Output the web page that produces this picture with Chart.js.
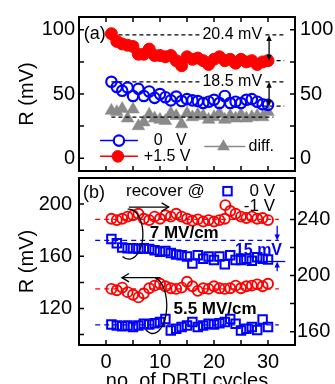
<!DOCTYPE html>
<html>
<head>
<meta charset="utf-8">
<script src="https://cdn.jsdelivr.net/npm/chart.js@4.4.1/dist/chart.umd.min.js"></script>
<style>
  body { margin: 0; background: #fff; }
  #wrap { position: relative; width: 335px; height: 384px; overflow: hidden; }
  #wrap canvas { position: absolute; left: 0; top: 0; }
</style>
</head>
<body>
<div id="wrap">
  <canvas id="panelA" width="335" height="384"></canvas>
  <canvas id="panelB" width="335" height="384"></canvas>
</div>
<script>
// DBTI cycle number
var cycles = [1, 2, 3, 4, 5, 6, 7, 8, 9, 10, 11, 12, 13, 14, 15, 16, 17, 18, 19, 20, 21, 22, 23, 24, 25, 26, 27, 28, 29, 30];

// panel (a): R (mV)
var aPlus15V = [97, 91, 89, 88, 87, 81, 81, 85, 80, 80, 79, 80, 76, 72, 79, 77, 78, 76, 73, 77, 79, 76, 77, 74, 77, 75, 76, 73, 75, 76];
var a0V = [59.5, 55.5, 52.5, 55, 48.5, 54, 48.5, 52, 47, 50, 47.5, 45, 48, 44.5, 46, 45, 44.5, 43, 44, 45.5, 43, 48.5, 43, 44, 43, 45.5, 46, 44, 42, 41.5];
var aDiff = [37, 36, 38.5, 31, 38, 25, 28, 34, 31, 30, 29, 35, 33, 26.5, 35, 32, 34, 33, 30, 32, 35, 30, 33, 31, 34, 31, 32, 33, 32, 36];
// dashed reference levels in (a)
var aRedLevels = [96, 76];
var aBlueLevels = [59.5, 40.5];
var aDiffLevel = 32;

// panel (b): 7 MV/cm pair (right axis), 5.5 MV/cm pair (left axis)
var b7Neg1V = [240.5, 239.5, 240.5, 242, 243, 244, 240.5, 239.5, 242, 240.5, 243, 242, 244, 242, 240.5, 239, 240, 238.5, 239.5, 238.5, 239.5, 240.5, 246, 244, 242, 241, 242, 240.5, 241, 239.5];
var b7ZeroV = [226, 223, 220, 219.5, 219.5, 219, 219.5, 219, 218, 217, 217.5, 216, 215, 214.5, 213.5, 208.5, 214.5, 212, 213.5, 211, 213.5, 208, 214.5, 211, 211, 212, 210.5, 213, 212, 211.5];
var b55Neg1V = [135, 134, 136, 132.5, 130.5, 128.5, 131.5, 135.5, 137.5, 139, 137, 135.5, 135, 136, 140.5, 137, 133.5, 135.5, 135, 137, 135.5, 135, 135.5, 137.5, 135.5, 137, 137.5, 138.5, 137, 139];
var b55ZeroV = [107.8, 107, 106.3, 107, 105.8, 107, 108.3, 107.8, 108.7, 109.6, 112, 103.2, 104.5, 105.8, 107, 109.6, 105.8, 107, 108.3, 107.8, 108.7, 109.6, 112, 108.3, 103.2, 104.5, 105.8, 103.5, 111.5, 105.8];
var b7Levels = [240, 225, 210];
var b55Levels = [135, 107.5];

// tick labels
var xLabels = [0, 10, 20, 30];
var aLabels = [0, 50, 100];
var bLeftLabels = [120, 160, 200];
var bRightLabels = [160, 200, 240];

var FONT = '"Liberation Sans", Arial, sans-serif';
var RED = '#ff0000', BLUE = '#0000ff', GRAY = '#8a8a8a', NONE = 'rgba(0,0,0,0)';
Chart.defaults.font.family = FONT;
Chart.defaults.color = '#000';

function pts(xs, ys) {
  return xs.map(function (x, i) { return { x: x, y: ys[i] }; });
}
function seg(x0, x1, y) {
  return [{ x: x0, y: y }, { x: x1, y: y }];
}
function levelLine(data, color, axis, dash) {
  return { data: data, yAxisID: axis, showLine: true, pointRadius: 0, borderColor: color,
           borderWidth: 1.3, borderDash: dash || [], fill: false };
}

function xScale(showLabels, height) {
  return {
    type: 'linear', min: -5, max: 35,
    grid: { display: false, drawTicks: false }, border: { display: false },
    ticks: { display: showLabels, stepSize: 5, includeBounds: false, autoSkip: false, maxRotation: 0,
             padding: 5, font: { size: 20 },
             callback: function (v) { return xLabels.indexOf(v) >= 0 ? String(v) : ''; } },
    title: { display: showLabels, text: 'no. of DBTI cycles', font: { size: 20 }, padding: { top: 0, bottom: -9 } },
    afterFit: function (s) { s.height = height; }
  };
}
function yScale(pos, min, max, step, labels, pad, title) {
  return {
    type: 'linear', position: pos, min: min, max: max,
    grid: { display: false, drawTicks: false }, border: { display: false },
    ticks: { stepSize: step, includeBounds: false, autoSkip: false, padding: pad, font: { size: 20 },
             callback: function (v) { return labels.indexOf(v) >= 0 ? String(v) : ''; } },
    title: { display: !!title, text: title || '', font: { size: 20 }, padding: { top: 15, bottom: 0 } },
    afterFit: function (s) { s.width = pos === 'left' ? 79 : 40; }
  };
}

// frame + inward tick marks
function frameTicks(topTicks) {
  return {
    id: 'frameTicks',
    afterDraw: function (chart) {
      var ctx = chart.ctx, a = chart.chartArea, len = 5;
      ctx.save();
      ctx.strokeStyle = '#000';
      ctx.lineWidth = 1.5;
      ctx.beginPath();
      var sx = chart.scales.x;
      sx.ticks.forEach(function (t) {
        var p = sx.getPixelForValue(t.value);
        if (p <= a.left + 1 || p >= a.right - 1) return;
        ctx.moveTo(p, a.bottom); ctx.lineTo(p, a.bottom - len);
        if (topTicks) { ctx.moveTo(p, a.top); ctx.lineTo(p, a.top + len); }
      });
      ['y', 'y2'].forEach(function (id) {
        var s = chart.scales[id];
        var x0 = s.position === 'left' ? a.left : a.right;
        var d = s.position === 'left' ? len : -len;
        s.ticks.forEach(function (t) {
          var p = s.getPixelForValue(t.value);
          if (p <= a.top + 1 || p >= a.bottom - 1) return;
          ctx.moveTo(x0, p); ctx.lineTo(x0 + d, p);
        });
      });
      ctx.stroke();
      ctx.lineWidth = 2;
      ctx.strokeRect(a.left, a.top, a.right - a.left, a.bottom - a.top);
      ctx.restore();
    }
  };
}

function head(ctx, x, y, dx, dy, size) {
  // filled arrow head at (x,y) pointing along (dx,dy)
  var w = size * 0.45;
  ctx.beginPath();
  ctx.moveTo(x, y);
  ctx.lineTo(x - dx * size - dy * w, y - dy * size + dx * w);
  ctx.lineTo(x - dx * size + dy * w, y - dy * size - dx * w);
  ctx.closePath();
  ctx.fill();
}
function chevron(ctx, x, y, dx, size) {
  ctx.beginPath();
  ctx.moveTo(x - dx * size, y - size * 0.6);
  ctx.lineTo(x, y);
  ctx.lineTo(x - dx * size, y + size * 0.6);
  ctx.stroke();
}
function circle(ctx, x, y, r, fill, color, lw) {
  ctx.beginPath(); ctx.arc(x, y, r, 0, Math.PI * 2);
  if (fill) { ctx.fillStyle = color; ctx.fill(); }
  ctx.strokeStyle = color; ctx.lineWidth = lw; ctx.stroke();
}

var annotA = {
  id: 'annotA',
  afterDatasetsDraw: function (chart) {
    var ctx = chart.ctx, sx = chart.scales.x, sy = chart.scales.y;
    function X(v) { return sx.getPixelForValue(v); }
    function Y(v) { return sy.getPixelForValue(v); }
    ctx.save();
    ctx.textBaseline = 'middle';
    ctx.fillStyle = '#000';
    ctx.font = '18px ' + FONT;
    ctx.textAlign = 'left';
    ctx.fillText('(a)', X(-4.1), Y(97));

    ctx.font = '16px ' + FONT;
    [['20.4 mV', aRedLevels[0]], ['18.5 mV', aBlueLevels[0]]].forEach(function (g) {
      var w = ctx.measureText(g[0]).width, xr = X(28.9), y = Y(g[1]);
      ctx.fillStyle = '#fff';
      ctx.fillRect(xr - w - 2, y - 8, w + 4, 16);
      ctx.fillStyle = '#000';
      ctx.textAlign = 'right';
      ctx.fillText(g[0], xr, y);
    });

    // double arrows
    ctx.strokeStyle = '#000'; ctx.fillStyle = '#000'; ctx.lineWidth = 1.3;
    [[aRedLevels[0], aRedLevels[1]], [aBlueLevels[0], aBlueLevels[1]]].forEach(function (p) {
      var x = X(30.2), y0 = Y(p[0]), y1 = Y(p[1]);
      ctx.beginPath(); ctx.moveTo(x, y0 + 4); ctx.lineTo(x, y1 - 4); ctx.stroke();
      head(ctx, x, y0, 0, -1, 6);
      head(ctx, x, y1, 0, 1, 6);
    });

    // legend
    ctx.lineWidth = 1.5;
    ctx.strokeStyle = BLUE;
    ctx.beginPath(); ctx.moveTo(X(-1.1), Y(13.7)); ctx.lineTo(X(5.9), Y(13.7)); ctx.stroke();
    ctx.fillStyle = '#fff';
    ctx.beginPath(); ctx.arc(X(2.4), Y(13.7), 5.3, 0, Math.PI * 2); ctx.fill();
    circle(ctx, X(2.4), Y(13.7), 5.2, false, BLUE, 2.2);
    ctx.strokeStyle = RED; ctx.lineWidth = 1.5;
    ctx.beginPath(); ctx.moveTo(X(-1.1), Y(1.4)); ctx.lineTo(X(5.9), Y(1.4)); ctx.stroke();
    circle(ctx, X(2.2), Y(1.4), 5.8, true, RED, 1);
    ctx.strokeStyle = GRAY; ctx.lineWidth = 1.5;
    ctx.beginPath(); ctx.moveTo(X(18.2), Y(9.1)); ctx.lineTo(X(25.8), Y(9.1)); ctx.stroke();
    var tx = X(21.75), ty = Y(9.1), r = 7.3;
    ctx.fillStyle = GRAY;
    ctx.beginPath();
    ctx.moveTo(tx, ty - r);
    ctx.lineTo(tx + r * 0.866, ty + r * 0.5);
    ctx.lineTo(tx - r * 0.866, ty + r * 0.5);
    ctx.closePath(); ctx.fill();

    ctx.fillStyle = '#000';
    ctx.textAlign = 'left';
    ctx.font = '16px ' + FONT;
    ctx.fillText('0   V', X(8.85), Y(13.7));
    ctx.fillText('+1.5 V', X(7), Y(1.4));
    ctx.fillText('diff.', X(26.4), Y(9.1));
    ctx.restore();
  }
};

var annotB = {
  id: 'annotB',
  afterDatasetsDraw: function (chart) {
    var ctx = chart.ctx, sx = chart.scales.x, sl = chart.scales.y, sr = chart.scales.y2;
    function X(v) { return sx.getPixelForValue(v); }
    function YL(v) { return sl.getPixelForValue(v); }
    function YR(v) { return sr.getPixelForValue(v); }
    ctx.save();
    ctx.textBaseline = 'middle';
    ctx.fillStyle = '#000';
    ctx.textAlign = 'left';
    ctx.font = '18px ' + FONT;
    ctx.fillText('(b)', X(-4.24), YL(208.4));
    ctx.font = '17px ' + FONT;
    ctx.fillText('recover @', X(3.7), YL(209.9));
    ctx.textAlign = 'right';
    ctx.fillText('0 V', X(31.3), YL(209.9));
    ctx.fillText('-1 V', X(31.3), YL(198.5));
    // legend markers
    ctx.strokeStyle = BLUE; ctx.lineWidth = 2;
    var q = 6 * Math.SQRT1_2;
    ctx.strokeRect(X(22.5) - q, YL(209.9) - q, 2 * q, 2 * q);
    circle(ctx, X(22.1), YL(199.2), 5, false, RED, 1.9);

    ctx.fillStyle = '#000';
    ctx.textAlign = 'left';
    ctx.font = 'bold 17px ' + FONT;
    ctx.fillText('7 MV/cm', X(8.1), YR(230));
    ctx.fillText('5.5 MV/cm', X(12.5), YL(119));

    // curved arrows
    ctx.strokeStyle = '#000'; ctx.lineWidth = 1.3;
    ctx.beginPath();
    ctx.ellipse(X(4.24), YR(229.5), 14, 25, 0, -95 * Math.PI / 180, 117 * Math.PI / 180);
    ctx.stroke();
    var ay = YR(248.8);
    ctx.beginPath(); ctx.moveTo(X(4.24), ay); ctx.lineTo(X(11.6), ay); ctx.stroke();
    chevron(ctx, X(11.6), ay, 1, 7);

    ctx.beginPath();
    ctx.ellipse(X(8.66), YL(122.3), 14, 28, 0, -80 * Math.PI / 180, 120 * Math.PI / 180);
    ctx.stroke();
    var by = YL(143.6);
    ctx.beginPath(); ctx.moveTo(X(10.1), by); ctx.lineTo(X(2.95), by); ctx.stroke();
    chevron(ctx, X(2.95), by, -1, 7);

    // 15 mV marker
    ctx.fillStyle = BLUE; ctx.strokeStyle = BLUE; ctx.lineWidth = 1.3;
    var ax = X(31.7);
    ctx.beginPath(); ctx.moveTo(ax, YR(235.5)); ctx.lineTo(ax, YR(b7Levels[1]) - 4); ctx.stroke();
    head(ctx, ax, YR(b7Levels[1]), 0, 1, 6);
    ctx.beginPath(); ctx.moveTo(ax, YR(203)); ctx.lineTo(ax, YR(b7Levels[2]) + 4); ctx.stroke();
    head(ctx, ax, YR(b7Levels[2]), 0, -1, 6);
    ctx.textAlign = 'right';
    ctx.font = 'bold 16px ' + FONT;
    ctx.fillText('15 mV', X(32.6), YR(218.1));
    ctx.restore();
  }
};

new Chart(document.getElementById('panelA'), {
  type: 'scatter',
  data: {
    datasets: [
      levelLine(seg(1, 31, aDiffLevel), '#000', 'y', [4, 3]),
      { label: '+1.5 V', data: pts(cycles, aPlus15V), pointStyle: 'circle', pointRadius: 6,
        backgroundColor: RED, borderColor: RED, borderWidth: 1 },
      { label: '0 V', data: pts(cycles, a0V), pointStyle: 'circle', pointRadius: 5.2,
        backgroundColor: NONE, borderColor: BLUE, borderWidth: 2.2 },
      { label: 'diff.', data: pts(cycles, aDiff), pointStyle: 'triangle', pointRadius: 7.3,
        backgroundColor: GRAY, borderColor: GRAY, borderWidth: 0.5 },
      levelLine(seg(1, 33, aRedLevels[0]), '#000', 'y', [4, 3]),
      levelLine(seg(29, 33, aRedLevels[1]), '#000', 'y', [4, 3]),
      levelLine(seg(1, 33, aBlueLevels[0]), '#000', 'y', [4, 3]),
      levelLine(seg(29, 33, aBlueLevels[1]), '#000', 'y', [4, 3])
    ]
  },
  options: {
    responsive: false, animation: false, devicePixelRatio: 1,
    layout: { autoPadding: false, padding: { top: 14, bottom: 213, left: 0, right: 0 } },
    plugins: { legend: { display: false }, tooltip: { enabled: false } },
    scales: {
      x: xScale(false, 0),
      y: yScale('left', -10, 110, 25, aLabels, 4, 'R (mV)'),
      y2: yScale('right', -10, 110, 25, aLabels, 5, '')
    }
  },
  plugins: [annotA, frameTicks(true)]
});

new Chart(document.getElementById('panelB'), {
  type: 'scatter',
  data: {
    datasets: [
      { label: '-1 V 7', data: pts(cycles, b7Neg1V), yAxisID: 'y2', pointStyle: 'circle', pointRadius: 5,
        backgroundColor: NONE, borderColor: RED, borderWidth: 1.9 },
      { label: '0 V 7', data: pts(cycles, b7ZeroV), yAxisID: 'y2', pointStyle: 'rect', pointRadius: 6,
        backgroundColor: NONE, borderColor: BLUE, borderWidth: 2 },
      { label: '-1 V 5.5', data: pts(cycles, b55Neg1V), yAxisID: 'y', pointStyle: 'circle', pointRadius: 5,
        backgroundColor: NONE, borderColor: RED, borderWidth: 1.9 },
      { label: '0 V 5.5', data: pts(cycles, b55ZeroV), yAxisID: 'y', pointStyle: 'rect', pointRadius: 6,
        backgroundColor: NONE, borderColor: BLUE, borderWidth: 2 },
      levelLine(seg(-2, 32, b7Levels[0]), RED, 'y2', [5, 4]),
      levelLine(seg(-2, 32, b7Levels[1]), BLUE, 'y2', [5, 4]),
      levelLine(seg(29, 33.2, b7Levels[2]), BLUE, 'y2'),
      levelLine(seg(-2, 32, b55Levels[0]), RED, 'y', [5, 4]),
      levelLine(seg(-2, 32, b55Levels[1]), BLUE, 'y', [5, 4])
    ]
  },
  options: {
    responsive: false, animation: false, devicePixelRatio: 1,
    layout: { autoPadding: false, padding: { top: 178, bottom: 0, left: 0, right: 0 } },
    plugins: { legend: { display: false }, tooltip: { enabled: false } },
    scales: {
      x: xScale(true, 39),
      y: yScale('left', 92, 220, 20, bLeftLabels, 7, 'R (mV)'),
      y2: yScale('right', 150.5, 269.5, 20, bRightLabels, 2, '')
    }
  },
  plugins: [annotB, frameTicks(false)]
});
</script>
</body>
</html>
